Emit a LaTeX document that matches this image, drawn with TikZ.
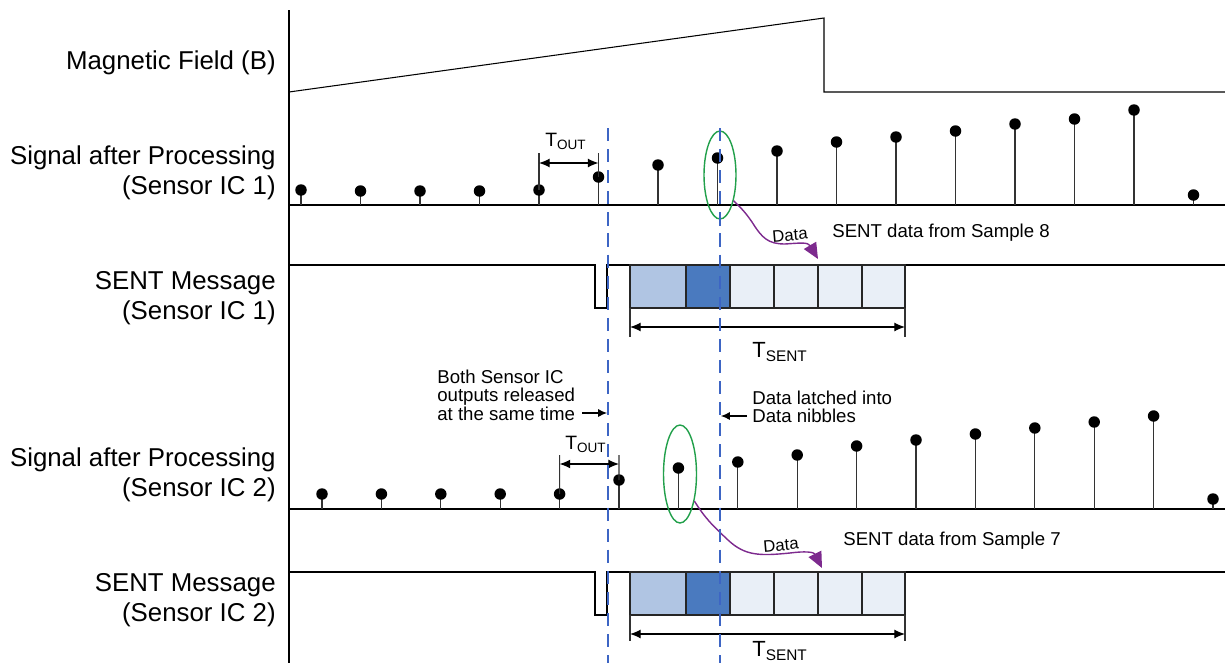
\documentclass[tikz,border=0pt]{standalone}
\usepackage{fontspec}
\setmainfont{Liberation Sans}
\usetikzlibrary{arrows.meta,shapes.geometric}

\definecolor{nibLight}{HTML}{B0C5E3}
\definecolor{nibDark}{HTML}{4A7ABF}
\definecolor{nibPale}{HTML}{E9EFF7}
\definecolor{markBlue}{HTML}{3D65C4}
\definecolor{loopGreen}{HTML}{22A04B}
\definecolor{dataPurple}{HTML}{7D2A8E}

\begin{document}
\begin{tikzpicture}[
    x=0.02cm, y=-0.02cm,
    wave/.style={line width=0.6pt, color=black},
    stem/.style={line width=0.6pt, color=black!80},
    sample/.style={circle, fill=black, inner sep=0pt, minimum size=0.23cm},
    marker/.style={line width=0.6pt, color=markBlue, dash pattern=on 7.5pt off 4.5pt},
    dim/.style={line width=0.6pt, {Latex[length=6pt,width=5pt]}-{Latex[length=6pt,width=5pt]}},
    note/.style={line width=0.6pt, -{Latex[length=5pt,width=4.5pt]}},
    datapath/.style={line width=0.8pt, color=dataPurple, -{Triangle[length=9pt,width=8pt]}},
    pick/.style={ellipse, draw=loopGreen, line width=0.8pt, inner sep=0pt},
    nibble/.style={draw=black!85, line width=0.6pt},
    sideLabel/.style={anchor=east, align=right, inner sep=0pt, font=\fontsize{14.7}{17}\selectfont},
    smallText/.style={anchor=west, align=left, inner sep=0pt, font=\fontsize{10.6}{10.6}\selectfont},
    tsub/.style={inner sep=0pt, font=\fontsize{11}{13}\selectfont},
    tbig/.style={inner sep=0pt, font=\fontsize{12.5}{15}\selectfont}
  ]
  \useasboundingbox (0,0) rectangle (1225,663);

  % Axis
  \draw[wave] (289,10) -- (289,663);

  % Magnetic field
  \draw[wave] (289,92) -- (824,18) -- (824,92) -- (1225,92);
  \node[sideLabel] (lblField) at (276,63) {Magnetic Field (B)};

  % Signal, Sensor IC 1
  \node[sideLabel] (lblSig1) at (276,173) {Signal after Processing\\(Sensor IC 1)};
  \draw[wave] (289,205) -- (1225,205);
  \foreach \h [count=\k from 0] in {190,191,191,191,190,177,165,158,151,142,137,131,124,119,110,195}{
    \draw[stem] (301+59.5*\k,205) -- (301+59.5*\k,\h);
    \node[sample] (a-\k) at (301+59.5*\k,\h) {};
  }
  \coordinate (tout1L) at (539,163);
  \coordinate (tout1R) at (598.5,163);
  \draw[stem] (a-4.center) -- (539,153);
  \draw[stem] (a-5.center) -- (598.5,153);
  \draw[dim] (tout1L) -- (tout1R);
  \node[tsub] (tout1) at (566,141) {T\textsubscript{OUT}};

  % Sample 8 picked up
  \node[pick, minimum width=0.64cm, minimum height=1.76cm] (pick1) at (720,175) {};
  \coordinate (tip1) at (818,259);
  \draw[datapath] (pick1.-62) .. controls (742,209) and (745,212) .. (752,222)
    .. controls (762,238) and (768,244) .. (785,244)
    .. controls (800,243) and (808,242) .. (tip1);
  \node[inner sep=0pt, rotate=5, font=\fontsize{9.5}{11}\selectfont] (data1) at (790,235) {Data};
  \node[smallText] (from8) at (832,233) {SENT data from Sample 8};

  % SENT message, Sensor IC 1
  \node[sideLabel] (lblSent1) at (276,298) {SENT Message\\(Sensor IC 1)};
  \draw[wave] (289,265) -- (595,265) -- (595,308) -- (607,308) -- (607,265) -- (1225,265);
  \foreach \xa/\xb/\c in {630/686/nibLight, 686/730/nibDark, 730/774/nibPale,
                          774/818/nibPale, 818/862/nibPale, 862/905/nibPale}
    \filldraw[nibble, fill=\c] (\xa,265) rectangle (\xb,308);
  \coordinate (tsent1L) at (630,327);
  \coordinate (tsent1R) at (905,327);
  \draw[stem] (630,308) -- (630,337);
  \draw[stem] (905,308) -- (905,337);
  \draw[dim] (tsent1L) -- (tsent1R);
  \node[tbig] (tsent1) at (780,352) {T\textsubscript{SENT}};

  % Notes
  \node[smallText] (both) at (437,395) {Both Sensor IC\\outputs released\\at the same time};
  \coordinate (bothFrom) at (582,413);
  \coordinate (bothTo) at (607,413);
  \draw[note] (bothFrom) -- (bothTo);
  \node[smallText] (latched) at (752,407) {Data latched into\\Data nibbles};
  \coordinate (latchFrom) at (747,416);
  \coordinate (latchTo) at (721,416);
  \draw[note] (latchFrom) -- (latchTo);

  % Signal, Sensor IC 2
  \node[sideLabel] (lblSig2) at (276,475) {Signal after Processing\\(Sensor IC 2)};
  \draw[wave] (289,509) -- (1225,509);
  \foreach \h [count=\k from 0] in {494,494,494,494,494,480,468,462,455,446,440,434,428,422,416,499}{
    \draw[stem] (322+59.4*\k,509) -- (322+59.4*\k,\h);
    \node[sample] (b-\k) at (322+59.4*\k,\h) {};
  }
  \coordinate (tout2L) at (559.6,464);
  \coordinate (tout2R) at (619,464);
  \draw[stem] (b-4.center) -- (559.6,455);
  \draw[stem] (b-5.center) -- (619,455);
  \draw[dim] (tout2L) -- (tout2R);
  \node[tsub] (tout2) at (586,444) {T\textsubscript{OUT}};

  % Sample 7 picked up
  \node[pick, minimum width=0.66cm, minimum height=1.96cm] (pick2) at (680,474) {};
  \coordinate (tip2) at (822,568);
  \draw[datapath] (pick2.-62) .. controls (705,518) and (712,525) .. (728,540)
    .. controls (745,556) and (760,556) .. (790,553)
    .. controls (805,551) and (814,552) .. (tip2);
  \node[inner sep=0pt, rotate=5, font=\fontsize{9.5}{11}\selectfont] (data2) at (781,545) {Data};
  \node[smallText] (from7) at (843,541) {SENT data from Sample 7};

  % SENT message, Sensor IC 2
  \node[sideLabel] (lblSent2) at (276,600) {SENT Message\\(Sensor IC 2)};
  \draw[wave] (289,572) -- (595,572) -- (595,615) -- (607,615) -- (607,572) -- (1225,572);
  \foreach \xa/\xb/\c in {630/686/nibLight, 686/730/nibDark, 730/774/nibPale,
                          774/818/nibPale, 818/862/nibPale, 862/905/nibPale}
    \filldraw[nibble, fill=\c] (\xa,572) rectangle (\xb,615);
  \coordinate (tsent2L) at (630,634);
  \coordinate (tsent2R) at (905,634);
  \draw[stem] (630,615) -- (630,641);
  \draw[stem] (905,615) -- (905,641);
  \draw[dim] (tsent2L) -- (tsent2R);
  \node[tbig] (tsent2) at (780,651) {T\textsubscript{SENT}};

  % Release and latch instants
  \draw[marker] (608,128) -- (608,663);
  \draw[marker] (720,128) -- (720,663);
\end{tikzpicture}
\end{document}
